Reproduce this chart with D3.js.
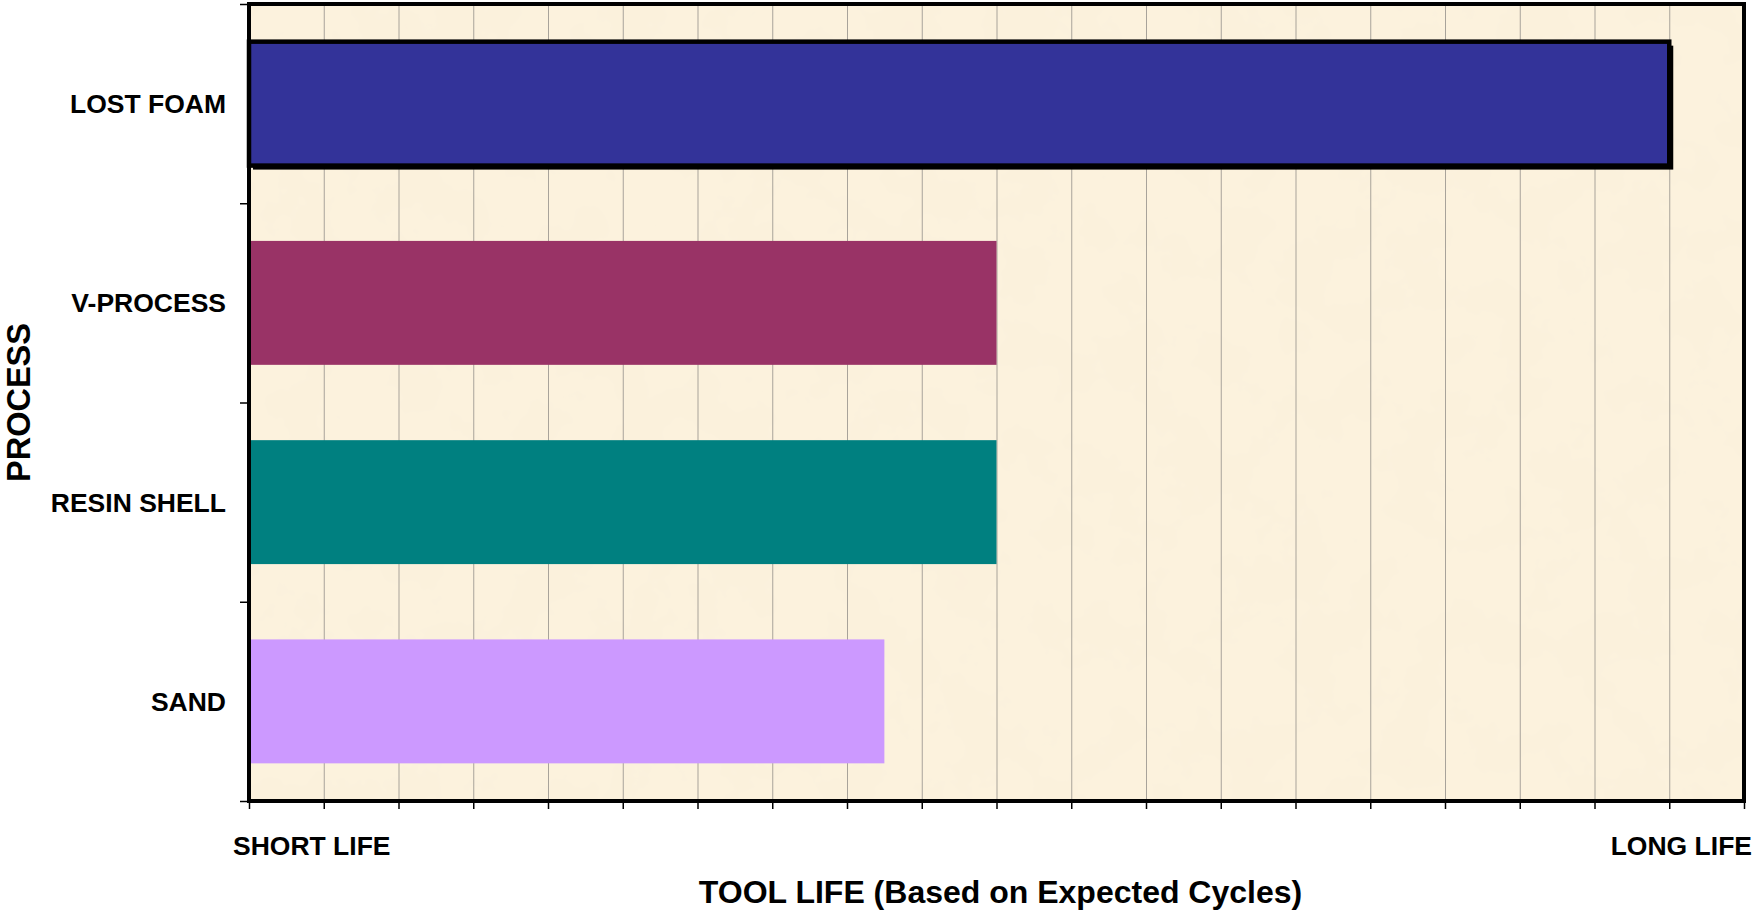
<!DOCTYPE html>
<html>
<head>
<meta charset="utf-8">
<script src="https://cdn.jsdelivr.net/npm/d3@7"></script>
<style>
  body { margin: 0; background: #fff; }
  svg text { font-family: "Liberation Sans", Arial, sans-serif; font-weight: bold; fill: #000; }
</style>
</head>
<body>
<svg id="chart" width="1754" height="910"></svg>
<script>
// chart data
var categories = ["LOST FOAM", "V-PROCESS", "RESIN SHELL", "SAND"];
var values = [19, 10, 10, 8.5];
var colors = ["#333399", "#993366", "#008080", "#CC99FF"];
var outlined = ["LOST FOAM"];
var xMax = 20;
var endLabels = ["SHORT LIFE", "LONG LIFE"];
var xTitle = "TOOL LIFE (Based on Expected Cycles)";
var yTitle = "PROCESS";

var svg = d3.select("#chart");
// note: "top" is taken by window.top, so use plot* names
var plotLeft = 249, plotRight = 1744, plotTop = 4, plotBottom = 801;

var x = d3.scaleLinear().domain([0, xMax]).range([plotLeft, plotRight]);
var y = d3.scaleBand().domain(categories).range([plotTop, plotBottom])
  .paddingInner(0.378).paddingOuter(0.189);
var yEdge = d3.scaleLinear().domain([0, categories.length]).range([plotTop, plotBottom]);

/* paper-like background */
var defs = svg.append("defs");
var filt = defs.append("filter").attr("id", "paper")
  .attr("x", 0).attr("y", 0).attr("width", "100%").attr("height", "100%");
filt.append("feTurbulence").attr("type", "fractalNoise")
  .attr("baseFrequency", "0.018").attr("numOctaves", 4).attr("seed", 7).attr("result", "n");
filt.append("feColorMatrix").attr("in", "n").attr("type", "matrix")
  .attr("values", "0 0 0 0 0.95  0 0 0 0 0.86  0 0 0 0 0.70  0.9 0 0 0 -0.36")
  .attr("result", "tint");
filt.append("feComposite").attr("in", "tint").attr("in2", "SourceGraphic").attr("operator", "over");

svg.append("rect")
  .attr("x", plotLeft).attr("y", plotTop)
  .attr("width", plotRight - plotLeft).attr("height", plotBottom - plotTop)
  .attr("fill", "#FCF2DD")
  .attr("filter", "url(#paper)");

// gridlines
var grid = svg.append("g")
  .attr("transform", "translate(0," + plotBottom + ")")
  .call(d3.axisBottom(x).ticks(xMax).tickSize(-(plotBottom - plotTop)).tickFormat(""));
grid.select(".domain").remove();
grid.selectAll("line").attr("stroke", "#a8a39a").attr("stroke-width", 1);

// bars
var bars = svg.append("g");
categories.forEach(function(c, i) {
  if (outlined.indexOf(c) >= 0) {
    bars.append("rect")
      .attr("x", x(0) + 4).attr("y", y(c) + 4)
      .attr("width", x(values[i]) - x(0)).attr("height", y.bandwidth())
      .attr("fill", "#000");
  }
  var r = bars.append("rect")
    .attr("x", x(0)).attr("y", y(c))
    .attr("width", x(values[i]) - x(0)).attr("height", y.bandwidth())
    .attr("fill", colors[i]);
  if (outlined.indexOf(c) >= 0) {
    r.attr("stroke", "#000").attr("stroke-width", 4.5);
  }
});

// x ticks
var xa = svg.append("g")
  .attr("transform", "translate(0," + (plotBottom + 2) + ")")
  .call(d3.axisBottom(x).ticks(xMax).tickSize(6).tickSizeOuter(0).tickFormat(""));
xa.select(".domain").remove();
xa.selectAll("line").attr("stroke", "#000").attr("stroke-width", 1.5);

// y ticks at category edges
var ya = svg.append("g")
  .attr("transform", "translate(" + (plotLeft - 2) + ",0)")
  .call(d3.axisLeft(yEdge).ticks(categories.length).tickSize(7).tickSizeOuter(0).tickFormat(""));
ya.select(".domain").remove();
ya.selectAll("line").attr("stroke", "#000").attr("stroke-width", 1.5);

// plot frame
svg.append("rect")
  .attr("x", plotLeft).attr("y", plotTop)
  .attr("width", plotRight - plotLeft).attr("height", plotBottom - plotTop)
  .attr("fill", "none").attr("stroke", "#000").attr("stroke-width", 4);

// category labels
svg.append("g").selectAll("text")
  .data(categories)
  .enter().append("text")
  .attr("x", plotLeft - 23)
  .attr("y", function(d) { return y(d) + y.bandwidth() / 2 + 9.5; })
  .attr("text-anchor", "end")
  .style("font-size", "26.5px")
  .text(function(d) { return d; });

// end labels of the x axis
svg.append("text")
  .attr("x", x(0) - 16).attr("y", 855)
  .attr("text-anchor", "start")
  .style("font-size", "26.5px")
  .text(endLabels[0]);
svg.append("text")
  .attr("x", x(xMax) + 8).attr("y", 855)
  .attr("text-anchor", "end")
  .style("font-size", "26.5px")
  .text(endLabels[1]);

// axis titles
svg.append("text")
  .attr("x", (plotLeft + plotRight) / 2 + 4).attr("y", 903)
  .attr("text-anchor", "middle")
  .style("font-size", "32px")
  .text(xTitle);
svg.append("text")
  .attr("transform", "translate(30," + ((plotTop + plotBottom) / 2) + ") rotate(-90)")
  .attr("text-anchor", "middle")
  .style("font-size", "32.5px")
  .text(yTitle);
</script>
</body>
</html>
